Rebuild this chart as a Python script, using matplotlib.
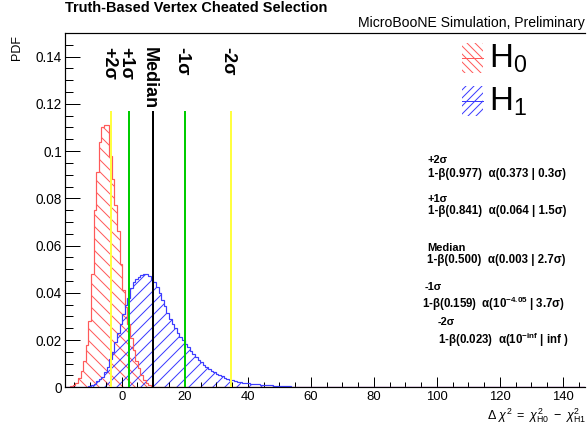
import numpy as np
import matplotlib
matplotlib.use('Agg')
import matplotlib.pyplot as plt
from matplotlib.patches import Rectangle
from matplotlib.lines import Line2D
from matplotlib.ticker import MultipleLocator, FuncFormatter
import matplotlib.transforms as mtransforms

plt.rcParams['font.family'] = ['Liberation Sans', 'DejaVu Sans']
plt.rcParams['mathtext.fontset'] = 'custom'
plt.rcParams['mathtext.rm'] = 'Liberation Sans'
plt.rcParams['mathtext.it'] = 'Liberation Sans:italic'
plt.rcParams['mathtext.bf'] = 'Liberation Sans:bold'
plt.rcParams['mathtext.sf'] = 'Liberation Sans'
plt.rcParams['hatch.linewidth'] = 1.0

# delta chi2 binning (200 bins)
x_lo, x_hi, n_bins = -18.0, 147.0, 200
edges = np.linspace(x_lo, x_hi, n_bins + 1)

# H0 pseudo-experiments, PDF per bin starting at bin 2
h0_first = 2
h0_pdf = [0.0005, 0.001, 0.002, 0.004, 0.007, 0.011, 0.018, 0.028, 0.048, 0.075,
          0.091, 0.104, 0.110, 0.111, 0.111, 0.098, 0.088, 0.077, 0.066, 0.052,
          0.041, 0.034, 0.027, 0.021, 0.016, 0.011, 0.008, 0.005, 0.003, 0.002,
          0.001, 0.0005]

# H1 pseudo-experiments, PDF per bin starting at bin 8
h1_first = 8
h1_pdf = [0.0003, 0.0005, 0.001, 0.0015, 0.0025, 0.0035, 0.0045, 0.0065, 0.0085, 0.012,
          0.015, 0.019, 0.023, 0.027, 0.031, 0.035, 0.038, 0.042, 0.0445, 0.046,
          0.0465, 0.0475, 0.048, 0.0478, 0.047, 0.0455, 0.0445, 0.0425, 0.040, 0.037,
          0.0345, 0.0315, 0.029, 0.027, 0.025, 0.0232, 0.0215, 0.020, 0.0185, 0.017,
          0.0155, 0.014, 0.0128, 0.0116, 0.0105, 0.0095, 0.0086, 0.0078, 0.0071, 0.0064,
          0.0057, 0.0051, 0.0046, 0.0041, 0.0037, 0.0033, 0.0030, 0.0027, 0.0024, 0.0022,
          0.0020, 0.0019, 0.0017, 0.0016, 0.0015, 0.0013, 0.0012, 0.0011, 0.0010, 0.0009,
          0.0008, 0.0008, 0.0007, 0.0006, 0.0006, 0.0005, 0.0005, 0.0004, 0.0004, 0.0003,
          0.0003, 0.0003, 0.0002, 0.0002, 0.0002, 0.0001, 0.0001, 0.0001]

# H1 quantiles drawn as vertical lines
quant_names = ['+2σ', '+1σ', 'Median', '-1σ', '-2σ']
quant_x = [-3.3, 2.2, 9.8, 20.0, 34.7]
quant_colors = ['#ffff40', '#00cc00', 'black', '#00cc00', '#ffff40']
line_top = 0.1167

# power and significance at each quantile
power = ['0.977', '0.841', '0.500', '0.159', '0.023']
alpha_p = ['0.373', '0.064', '0.003', r'10$^{\mathbf{-4.05}}$', r'10$^{\mathbf{-inf}}$']
alpha_sig = ['0.3σ', '1.5σ', '2.7σ', '3.7σ', 'inf ']

W, H = 587, 431


def pdf_full(first, vals):
    out = np.zeros(n_bins)
    out[first:first + len(vals)] = vals
    return out


h0 = pdf_full(h0_first, h0_pdf)
h1 = pdf_full(h1_first, h1_pdf)

fig = plt.figure(figsize=(W / 72, H / 72), dpi=72)
ax = fig.add_axes([65 / W, 1 - 387.3 / H, 520 / W, 354.3 / H])

red = '#ff5a5a'
blue = '#3c3cff'

ax.stairs(h0, edges, fill=True, facecolor='none', edgecolor=red, hatch='\\\\', linewidth=0, zorder=1)
ax.stairs(h1, edges, fill=True, facecolor='none', edgecolor=blue, hatch='//', linewidth=0, zorder=1)
ax.stairs(h0, edges, color=red, linewidth=1.2, zorder=2)
ax.stairs(h1, edges, color=blue, linewidth=1.2, zorder=2)

off = mtransforms.offset_copy(ax.transData, fig=fig, x=-3, y=0, units='dots')
for name, xq, c in zip(quant_names, quant_x, quant_colors):
    ax.plot([xq, xq], [0, line_top], color=c, linewidth=2, zorder=3)
    ax.text(xq, 0.1442, name, rotation=270, ha='center', va='top',
            fontsize=18, fontweight='bold', transform=off)

ax.set_xlim(x_lo, x_hi)
ax.set_ylim(0, 0.15)
ax.xaxis.set_major_locator(MultipleLocator(20))
ax.xaxis.set_minor_locator(MultipleLocator(5))
ax.yaxis.set_major_locator(MultipleLocator(0.02))
ax.yaxis.set_minor_locator(MultipleLocator(0.005))
fmt = FuncFormatter(lambda v, p: '%g' % round(v, 4))
ax.xaxis.set_major_formatter(fmt)
ax.yaxis.set_major_formatter(fmt)
ax.tick_params(axis='x', which='major', direction='in', length=10, width=1, pad=4, labelsize=13)
ax.tick_params(axis='x', which='minor', direction='in', length=5, width=1)
ax.tick_params(axis='y', which='major', direction='in', length=15, width=1, pad=3, labelsize=13.5)
ax.tick_params(axis='y', which='minor', direction='in', length=7.5, width=1)
ax.spines['right'].set_visible(False)
for s in ['left', 'bottom', 'top']:
    ax.spines[s].set_linewidth(1.2)

# titles and axis labels
fig.text(65 / W, 1 - 8 / H, 'Truth-Based Vertex Cheated Selection', fontsize=14.5,
         fontweight='bold', ha='left', va='center')
fig.text(585 / W, 1 - 23 / H, 'MicroBooNE Simulation, Preliminary', fontsize=14,
         ha='right', va='center')
fig.text(17 / W, 1 - 47 / H, 'PDF', rotation=90, fontsize=12.5, ha='center', va='center')
fig.text(586 / W, 1 - 416 / H,
         r'$\Delta\ \chi^{2}\ =\ \chi^{2}_{\mathrm{H0}}\ -\ \chi^{2}_{\mathrm{H1}}$',
         fontsize=12.5, ha='right', va='center')

# legend
for y0, hatch, c, lab in [(43, '\\\\\\', red, r'$\mathrm{H}_{0}$'), (86, '///', blue, r'$\mathrm{H}_{1}$')]:
    fig.patches.append(Rectangle((462 / W, 1 - (y0 + 30) / H), 21 / W, 30 / H,
                                 transform=fig.transFigure, facecolor='none',
                                 edgecolor=c, hatch=hatch, linewidth=0))
    fig.lines.append(Line2D([462 / W, 483 / W], [1 - (y0 + 15) / H] * 2,
                            transform=fig.transFigure, color=c, linewidth=1))
    fig.text(489 / W, 1 - (y0 + 16) / H, lab, fontsize=33, ha='left', va='center')

# power / significance annotations
head_pos = [(428, 160), (428, 199.5), (427, 248), (425, 287.5), (438, 322)]
body_pos = [(428, 173.5), (428, 211.5), (427, 259.5), (422, 304), (438, 340)]
for i in range(len(power)):
    hx, hy = head_pos[i]
    bx, by = body_pos[i]
    fig.text(hx / W, 1 - hy / H, quant_names[i], fontsize=11, fontweight='bold',
             ha='left', va='center')
    fig.text(bx / W, 1 - by / H,
             '1-β(%s)  α(%s | %s)' % (power[i], alpha_p[i], alpha_sig[i]),
             fontsize=11.5, fontweight='bold', ha='left', va='center')

fig.savefig('out.png', dpi=72)
